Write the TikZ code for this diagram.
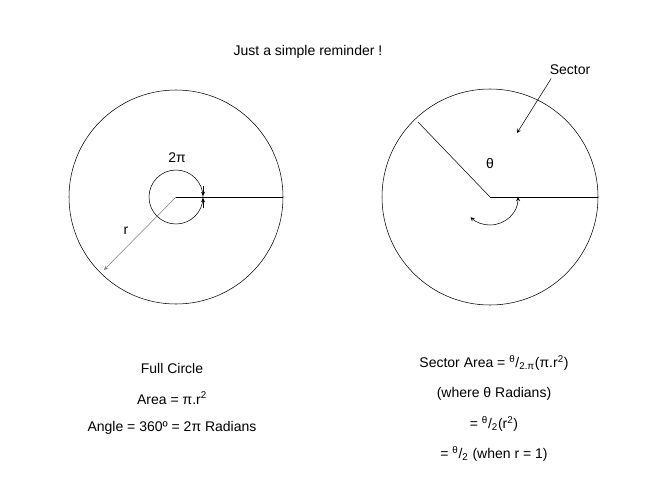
\documentclass[tikz,border=0pt]{standalone}
\usepackage{fontspec}
\setmainfont{Liberation Sans}
\usetikzlibrary{positioning}

\begin{document}
\begin{tikzpicture}[x=0.75pt,y=-0.75pt,font=\fontsize{10.5}{12}\selectfont,
  txt/.style={inner sep=1pt}]
\useasboundingbox (0,0) rectangle (666,500);
% nodes
\coordinate (cl) at (176,197);
\coordinate (cr) at (490,197);
\node [txt] (title) at (308,52) {Just a simple reminder !};
\node [txt] (twopi) at (177,158) {2π};
\node [txt] (r) at (126,231) {r};
\node [txt] (theta) at (490,163) {θ};
\node [txt] (sector) at (570,70) {Sector};
\node [txt] (full) at (172,368) {Full Circle};
\node [txt] (area) at (172,398) {Area = π.r\textsuperscript{2}};
\node [txt] (angle) at (172,428) {Angle = 360º = 2π Radians};
\node [txt] (sarea) at (494,363) {Sector Area = \textsuperscript{θ}/\textsubscript{2.π}(π.r\textsuperscript{2})};
\node [txt] (where) at (494,394) {(where θ Radians)};
\node [txt] (eq1) at (494,424) {= \textsuperscript{θ}/\textsubscript{2}(r\textsuperscript{2})};
\node [txt] (eq2) at (494,454) {= \textsuperscript{θ}/\textsubscript{2} (when r = 1)};
% shapes
\draw (cl) circle [radius=107];
\draw (cr) circle [radius=108];
\draw (cl) circle [radius=27];
\draw (cl) -- (283,197);
\draw [gray, -stealth] (cl) -- (104,270);
\draw [-stealth] (203,186) -- (203,196);
\draw [-stealth] (203,208) -- (203,198);
\draw (cr) -- (598,197);
\draw (cr) -- (418,122);
\draw [stealth-stealth] (518,197) arc [start angle=0, end angle=134, radius=28];
\draw [-stealth] (sector.south west) ++(3,2) -- (517,133);
\end{tikzpicture}
\end{document}
